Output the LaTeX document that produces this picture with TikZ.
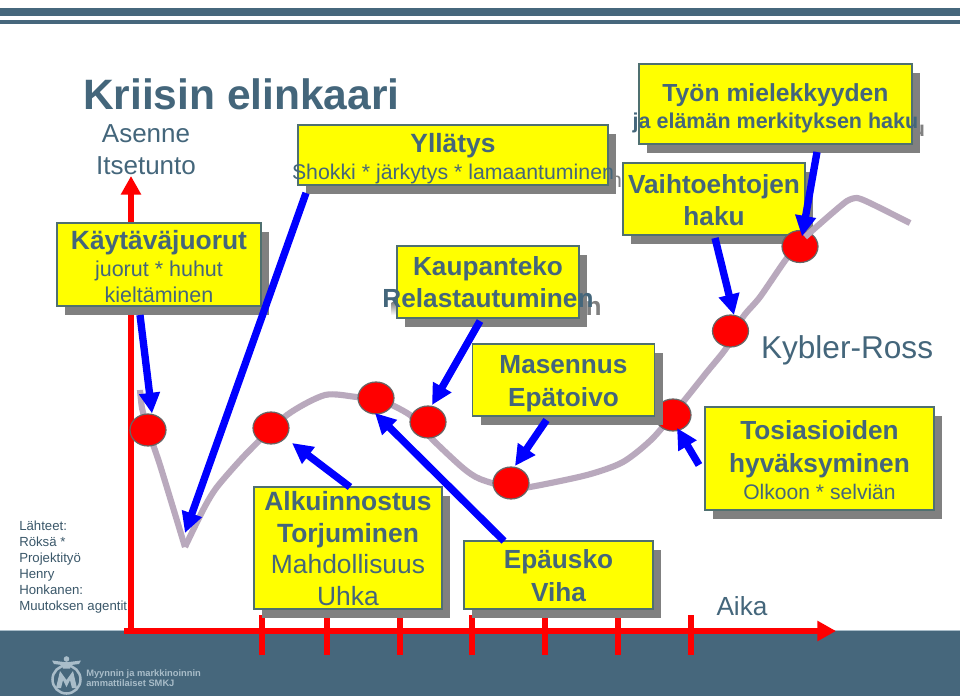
\documentclass[tikz,border=0pt]{standalone}
\usepackage{fontspec}
\setmainfont{Liberation Sans}
\usetikzlibrary{arrows.meta,shapes.geometric,shadows,calc}
\definecolor{ink}{HTML}{44667B}
\definecolor{band}{HTML}{46677C}
\definecolor{shade}{HTML}{808080}
\definecolor{trail}{HTML}{B9A9BD}
\definecolor{edgeg}{HTML}{4F7070}
\definecolor{logoc}{HTML}{A9BDC9}
\definecolor{boxfill}{rgb}{1,1,0}
\definecolor{redpure}{rgb}{1,0,0}
\definecolor{bluepure}{rgb}{0,0,1}
\newcommand\fsz[1]{\fontsize{\the\dimexpr#1pt*3/4\relax}{\the\dimexpr#1pt*9/10\relax}\selectfont}
\newcommand\bl[3]{\makebox[0pt]{\rule{0pt}{\dimexpr#1pt*3/4\relax}\smash{\fsz{#2}\bfseries #3}}}
\newcommand\rg[3]{\makebox[0pt]{\rule{0pt}{\dimexpr#1pt*3/4\relax}\smash{\fsz{#2}#3}}}
\tikzset{
  x=0.75pt,y=-0.75pt,
  crisis/.style={draw=edgeg,line width=0.8pt,fill=boxfill,inner sep=0pt,outer sep=0pt,
    align=center,text=ink,
    font={\baselineskip=0pt\lineskip=0pt\lineskiplimit=0pt},
    general shadow={fill=shade,draw=none,shadow xshift=6.2pt,shadow yshift=-6.4pt}},
  stagept/.style={ellipse,draw=black!60,line width=0.9pt,fill=redpure,inner sep=0pt,outer sep=0pt,
    minimum width=27pt,minimum height=24pt},
  point/.style={draw=bluepure,line width=5.5pt,-{Triangle[length=15.5pt,width=15pt]}},
  axisline/.style={draw=redpure,line width=4.7pt,-{Triangle[length=14pt,width=14.5pt]}},
  tick/.style={draw=redpure,line width=3.9pt},
  trailline/.style={draw=trail,line width=4.6pt},
  lab/.style={inner sep=0pt,outer sep=0pt,text=ink},
  ghost/.style={inner sep=0pt,outer sep=0pt,text=shade,anchor=base east},
}
\begin{document}
\begin{tikzpicture}
\useasboundingbox (0,0) rectangle (960,696);
\fill[white] (0,0) rectangle (960,696);
% top bars and footer
\fill[band] (0,8) rectangle (960,15.5);
\fill[band] (0,20) rectangle (960,23.5);
\fill[band] (0,631) rectangle (960,696);
\draw[color=logoc,line width=0.6pt] (0,630.6) -- (960,630.6);
% logo
\draw[color=logoc,line width=1.9pt] (66.5,679.5) circle[radius=14];
\fill[logoc] (56,688) -- (60,671) -- (66.5,680) -- (73,671) -- (77,688) -- (72,688) -- (70,680) -- (66.5,687) -- (63,680) -- (61,688) -- cycle;
\fill[logoc] (66.5,659) circle[radius=2.8];
\fill[logoc] (52,660.5) -- (64,662) -- (69,662) -- (81,660.5) -- (79,664) -- (71,665) -- (70,668.5) -- (63,668.5) -- (62,665) -- (54,664) -- cycle;
\node[inner sep=0pt,anchor=north west,align=left,text=logoc,font={\fontsize{7pt}{7.6pt}\selectfont\bfseries}] (logotext) at (86,669.5) {Myynnin ja markkinoinnin\\ammattilaiset SMKJ};
% axes
\coordinate (origin) at (131,631);
\coordinate (ytip) at (131,176);
\coordinate (xstart) at (124,631);
\coordinate (xtip) at (836,631);
\draw[axisline] (origin) -- (ytip);
\draw[axisline] (xstart) -- (xtip);
\foreach \tx in {262,327,400,472,545,618,691} \draw[tick] (\tx,615) -- (\tx,655);
% curve
\draw[trailline,line join=miter] plot[smooth,tension=0.35] coordinates {(140,390) (142,408) (148,430) (160,465) (185,547)};
\draw[trailline] plot[smooth,tension=0.45] coordinates {(185,547) (203,510) (217,487) (247,453) (287,415) (325,395) (357,397) (376,398) (410,415) (433,440) (463,468) (480,479) (511,488) (530,487) (587,475) (623,462) (653,438) (683,402) (707,372) (727,347) (743,317) (760,297) (787,258) (800,246)};
% labels
\node[lab,anchor=base west,font={\fsz{42.5}\bfseries}] (title) at (83,109) {Kriisin elinkaari};
\node[lab,anchor=base,font=\fsz{26}] (asenne) at (146,142) {Asenne};
\node[lab,anchor=base,font=\fsz{26}] (itsetunto) at (146,174) {Itsetunto};
\node[inner sep=0pt,anchor=north west,align=left,text=ink!85!black,font={\fontsize{9.9pt}{12pt}\selectfont}] (sources) at (19,521) {Lähteet:\\Röksä *\\Projektityö\\Henry\\Honkanen:\\Muutoksen agentit};
\node[lab,anchor=base west,font=\fsz{31.6}] (kybler) at (761,358) {Kybler-Ross};
\node[lab,anchor=base west,font=\fsz{26.2}] (aika) at (716.5,615) {Aika};
% stage points
\node[stagept] (p1) at (148,430) {};
\node[stagept] (p2) at (271,428) {};
\node[stagept] (p3) at (376,398) {};
\node[stagept] (p4) at (428,422) {};
\node[stagept] (p5) at (511,483) {};
\node[stagept] (p6) at (673,415) {};
\node[stagept] (p7) at (730.5,331) {};
% the grey shadows of the lines, where they show past their boxes
\node[ghost,font=\fsz{21.3}] (g1) at (622,187) {n};
\node[ghost,font={\fsz{26.2}\bfseries}] (g2) at (601.5,315) {n};
\node[ghost,font={\fsz{21.5}\bfseries}] (g3) at (925,136) {u};
\fill[shade] (391.5,302) rectangle (397,315);
% boxes
\node[crisis,minimum width=153pt,minimum height=62.25pt] (juorut) at (159,264.5) {\bl{22}{26.4}{Käytäväjuorut}\\\rg{27}{21.5}{juorut * huhut}\\\rg{26}{21.5}{kieltäminen}};
% arrows below the boxes
\draw[point] ($(juorut.south west)+(83,9)$) -- ($(p1.center)+(4,-16.5)$);
\coordinate (vertex) at (185,533);
\node[crisis,minimum width=232.5pt,minimum height=45pt] (yllatys) at (453,155) {\bl{21}{26.4}{Yllätys}\\\rg{27}{21.3}{Shokki * järkytys * lamaantuminen}};
\draw[point] ($(yllatys.south west)+(8,8)$) -- (vertex);
\node[crisis,minimum width=136.5pt,minimum height=54pt] (kaupat) at (488,282) {\bl{18}{26.2}{Kaupanteko}\\\bl{32}{26.2}{Relastautuminen}};
\node[crisis,minimum width=204.75pt,minimum height=60pt] (tyon) at (775.5,104) {\bl{21}{24.7}{Työn mielekkyyden}\\\bl{27}{21.5}{ja elämän merkityksen haku}};
\node[crisis,minimum width=136.5pt,minimum height=54pt] (vaihto) at (714,199) {\bl{20}{26.2}{Vaihtoehtojen}\\\bl{32}{26.2}{haku}};
\node[crisis,minimum width=136.5pt,minimum height=54pt] (masennus) at (563.5,380) {\bl{19}{26.2}{Masennus}\\\bl{33}{26.2}{Epätoivo}};
\node[crisis,minimum width=171.75pt,minimum height=77.25pt] (tosi) at (819.5,458.5) {\bl{21}{26.2}{Tosiasioiden}\\\bl{33}{26.2}{hyväksyminen}\\\rg{27}{21.1}{Olkoon * selviän}};
\node[crisis,minimum width=141pt,minimum height=91.5pt] (alku) at (348,548) {\bl{19}{26.4}{Alkuinnostus}\\\bl{32}{26.4}{Torjuminen}\\\rg{31}{26.4}{Mahdollisuus}\\\rg{32}{26.4}{Uhka}};
\node[crisis,minimum width=141.75pt,minimum height=51pt] (epausko) at (558.5,575) {\bl{19}{26.2}{Epäusko}\\\bl{33}{26.2}{Viha}};
% last stage point and the curve over it
\node[stagept] (p8) at (800,246.5) {};
\draw[trailline] plot[smooth,tension=0.4] coordinates {(805,237) (830,215) (847,201) (857,198) (870,203) (910,223)};
% arrows over the boxes
\draw[point] ($(alku.north west)+(96,0)$) -- ($(p2.center)+(21,15)$);
\draw[point] ($(epausko.north west)+(40,0)$) -- ($(p3.center)+(-1,15)$);
\draw[point] ($(kaupat.south west)+(83,3)$) -- ($(p4.center)+(4,-17)$);
\draw[point] ($(masennus.south west)+(74,4)$) -- ($(p5.center)+(4,-17)$);
\draw[point] ($(tosi.south west)+(-6,-45)$) -- ($(p6.center)+(4,13)$);
\draw[point] ($(vaihto.south west)+(92,3)$) -- ($(p7.center)+(3.5,-16)$);
\draw[point] ($(tyon.south west)+(178,8)$) -- ($(p8.center)+(2,-10)$);
\end{tikzpicture}
\end{document}
